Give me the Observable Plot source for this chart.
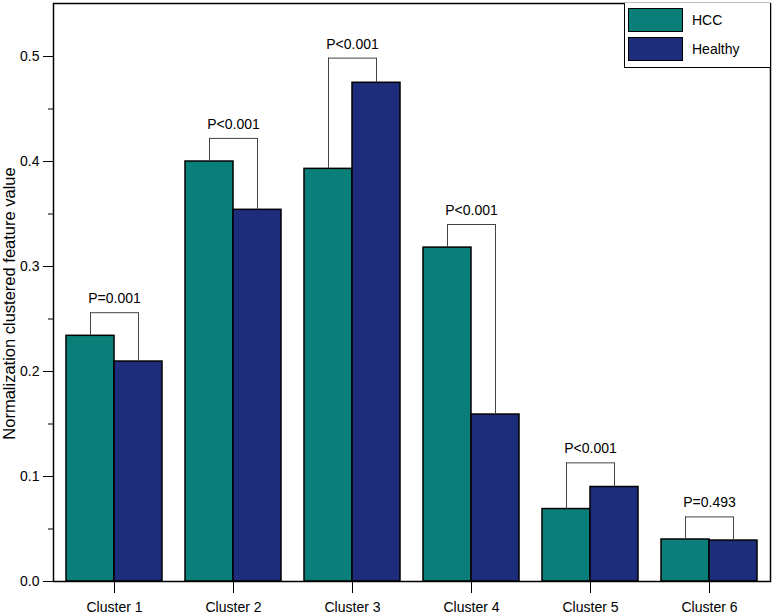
<!DOCTYPE html>
<html>
<head>
<meta charset="utf-8">
<script src="https://cdn.jsdelivr.net/npm/d3@7"></script>
<script src="https://cdn.jsdelivr.net/npm/@observablehq/plot@0.6"></script>
<style>
  body { margin: 0; background: #fff; }
  #wrap { position: relative; width: 772px; height: 616px; font-family: "Liberation Sans", Arial, sans-serif; }
  #legend { position: absolute; left: 624px; top: 3px; width: 146px; height: 65px; border-left: 1px solid #000; border-bottom: 1px solid #000; background: #fff; box-sizing: border-box; }
  .item { position: absolute; left: 3px; display: flex; align-items: center; font-size: 14px; color: #000; }
  .sw { width: 55px; height: 24px; border: 1.5px solid #000; box-sizing: border-box; margin-right: 9px; }
</style>
</head>
<body>
<div id="wrap"></div>
<script>
const clusters = ["Cluster 1", "Cluster 2", "Cluster 3", "Cluster 4", "Cluster 5", "Cluster 6"];
const hcc      = [0.234, 0.400, 0.393, 0.318, 0.069, 0.040];
const healthy  = [0.2095, 0.354, 0.475, 0.159, 0.090, 0.039];
const bracket  = [0.256, 0.422, 0.4985, 0.340, 0.113, 0.0615];
const pLabels  = ["P=0.001", "P<0.001", "P<0.001", "P<0.001", "P<0.001", "P=0.493"];
const groups   = ["HCC", "Healthy"];
const colors   = ["#0a7e78", "#1e2c7c"];
const yMajor   = [0, 0.1, 0.2, 0.3, 0.4, 0.5];
const yMinor   = [0.05, 0.15, 0.25, 0.35, 0.45];
const yTitle   = "Normalization clustered feature value";

const rows = clusters.map((c, i) => ({cluster: c, hcc: hcc[i], healthy: healthy[i], bracket: bracket[i], p: pLabels[i]}));

const half = 48;
const chart = Plot.plot({
  width: 772,
  height: 616,
  marginLeft: 53,
  marginRight: 2,
  marginTop: 3,
  marginBottom: 35,
  style: {fontFamily: "'Liberation Sans', Arial, sans-serif", fontSize: "14px", color: "#000", background: "transparent"},
  x: {domain: clusters, paddingInner: 0.197, paddingOuter: 0.0985, label: null, tickSize: 12, tickPadding: 9},
  y: {domain: [0, 0.5505], axis: null},
  marks: [
    Plot.barY(rows, {x: "cluster", y: "hcc", fill: colors[0], stroke: "#000", strokeWidth: 1.5, insetRight: half}),
    Plot.barY(rows, {x: "cluster", y: "healthy", fill: colors[1], stroke: "#000", strokeWidth: 1.5, insetLeft: half}),
    Plot.ruleX(rows, {x: "cluster", y1: "hcc", y2: "bracket", dx: -half / 2, stroke: "#444", strokeWidth: 1}),
    Plot.ruleX(rows, {x: "cluster", y1: "healthy", y2: "bracket", dx: half / 2, stroke: "#444", strokeWidth: 1}),
    Plot.tickY(rows, {x: "cluster", y: "bracket", insetLeft: half / 2, insetRight: half / 2, stroke: "#444", strokeWidth: 1}),
    Plot.text(rows, {x: "cluster", y: "bracket", text: "p", dy: -14, fontSize: 14, fill: "#000"}),
    Plot.axisY({ticks: yMajor, tickSize: 10, tickPadding: 4, tickFormat: d3.format(".1f"), label: null, fontSize: 14}),
    Plot.axisY({ticks: yMinor, tickSize: 5, tickFormat: () => "", label: null}),
    Plot.text([yTitle], {frameAnchor: "left", textAnchor: "middle", rotate: -90, dx: -44, dy: 11, fontSize: 16.5, fill: "#000"}),
    Plot.frame({stroke: "#000", strokeWidth: 1.5})
  ]
});

const wrap = document.getElementById("wrap");
wrap.appendChild(chart);

const legend = document.createElement("div");
legend.id = "legend";
groups.forEach((g, i) => {
  const item = document.createElement("div");
  item.className = "item";
  item.style.top = (5 + i * 29) + "px";
  const sw = document.createElement("div");
  sw.className = "sw";
  sw.style.background = colors[i];
  item.appendChild(sw);
  const t = document.createElement("span");
  t.textContent = g;
  item.appendChild(t);
  legend.appendChild(item);
});
wrap.appendChild(legend);
</script>
</body>
</html>
